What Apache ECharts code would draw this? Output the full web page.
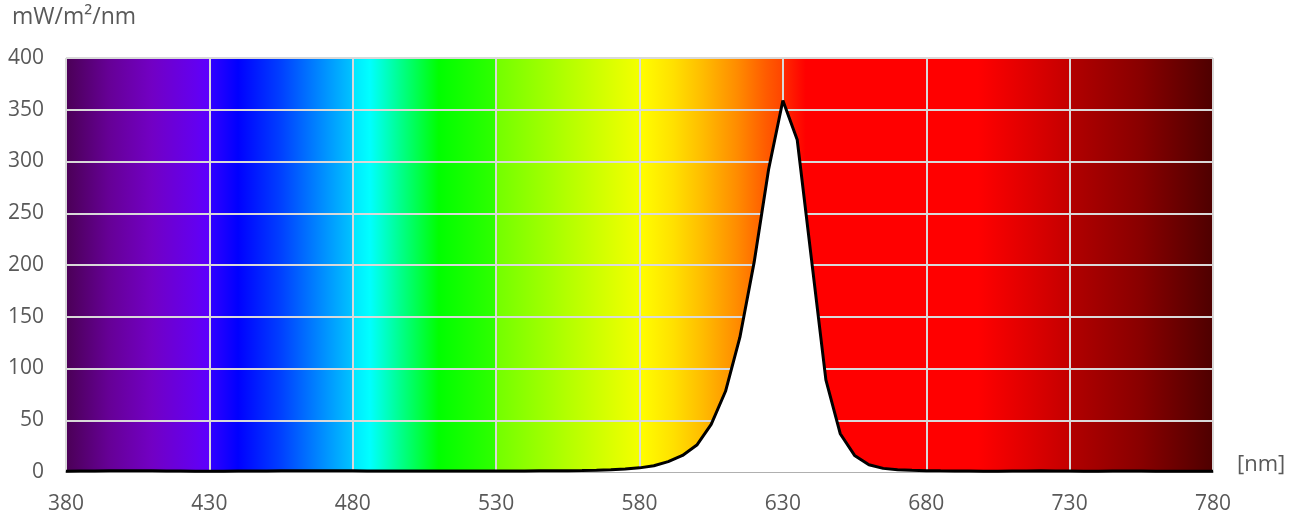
<!DOCTYPE html>
<html>
<head>
<meta charset="utf-8">
<script src="https://cdn.jsdelivr.net/npm/echarts@6/dist/echarts.min.js"></script>
<style>
html,body{margin:0;padding:0;background:#fff;}
#chart{width:1295px;height:518px;}
</style>
</head>
<body>
<div id="chart"></div>
<script>
// Wavelengths (nm), 5 nm steps
const wavelengths = [];
for (let w = 380; w <= 780; w += 5) wavelengths.push(w);
// Spectral irradiance (mW/m²/nm)
const irradiance = [
  0.8, 0.9, 1.0, 1.1, 1.2, 1.2, 1.1, 1.0, 0.9, 0.8,   // 380-425
  0.8, 0.8, 0.9, 1.0, 1.0, 1.1, 1.1, 1.2, 1.2, 1.1,   // 430-475
  1.1, 1.0, 1.0, 1.0, 1.0, 0.9, 0.9, 0.9, 0.9, 0.9,   // 480-525
  0.9, 1.0, 1.0, 1.1, 1.2, 1.3, 1.4, 1.7, 2.2, 2.9,   // 530-575
  4, 6, 10, 16, 26, 46, 78, 130, 203, 292,            // 580-625
  359, 321, 205, 89, 37, 16, 7, 3.5, 2.2, 1.6,        // 630-675
  1.3, 1.1, 1.0, 0.9, 0.8, 0.8, 0.9, 1.0, 1.1, 1.0,   // 680-725
  0.9, 0.8, 0.8, 0.9, 1.0, 0.9, 0.8, 0.7, 0.7, 0.8,   // 730-775
  0.8                                                 // 780
];
const xTicks = [380, 430, 480, 530, 580, 630, 680, 730, 780];
const yTicks = [0, 50, 100, 150, 200, 250, 300, 350, 400];
const yAxisTitle = 'mW/m²/nm';
const xAxisTitle = '[nm]';

// Spectrum background stops: [nm, colour]
const spectrumStops = [
  [380, '#4b0056'], [395, '#660096'], [410, '#7200c4'], [425, '#6400ee'], [430, '#5c00ff'],
  [430, '#3200ff'], [440, '#0000ff'], [455, '#0040ff'], [470, '#0090ff'], [480, '#00c4ff'],
  [480, '#00e6ff'], [486, '#00ffff'], [497, '#00ff88'], [510, '#00ff00'], [530, '#30ff00'],
  [530, '#72ff00'], [555, '#b4ff00'], [580, '#f4ff00'],
  [580, '#ffff00'], [592, '#ffe000'], [602, '#ffbc00'], [614, '#ff8c00'], [624, '#ff5c00'], [630, '#ff4400'],
  [630, '#ff2a00'], [638, '#ff0000'], [680, '#ff0000'],
  [680, '#ff0000'], [698, '#ff0000'], [715, '#e00000'], [730, '#c40000'],
  [730, '#b20000'], [755, '#880000'], [780, '#4e0000']
];

const chart = echarts.init(document.getElementById('chart'), null, {renderer: 'canvas'});
const font = '"Open Sans", "Noto Sans", sans-serif';
const labelColor = '#595959';

const bg = new echarts.graphic.LinearGradient(0, 0, 1, 0,
  spectrumStops.map(s => ({offset: (s[0] - 380) / 400, color: s[1]})));

chart.setOption({
  animation: false,
  grid: {
    left: 66, right: 82, top: 58, bottom: 46,
    show: true, backgroundColor: bg, borderWidth: 0
  },
  xAxis: {
    type: 'value', min: 380, max: 780, interval: 50,
    axisLine: {show: true, onZero: false, lineStyle: {color: '#b0b0b0', width: 2}},
    axisTick: {show: false},
    axisLabel: {color: labelColor, fontFamily: font, fontSize: 21, margin: 22,
      formatter: v => xTicks.includes(v) ? String(v) : ''},
    splitLine: {show: true, lineStyle: {color: '#d9d9d9', width: 2}}
  },
  yAxis: {
    type: 'value', min: 0, max: 400, interval: 50,
    axisLine: {show: false},
    axisTick: {show: false},
    axisLabel: {color: labelColor, fontFamily: font, fontSize: 21, margin: 22,
      formatter: v => yTicks.includes(v) ? String(v) : ''},
    splitLine: {show: true, lineStyle: {color: '#d9d9d9', width: 2}}
  },
  series: [{
    type: 'line',
    data: wavelengths.map((w, i) => [w, irradiance[i]]),
    showSymbol: false,
    smooth: false,
    lineStyle: {color: '#000000', width: 3},
    areaStyle: {color: '#ffffff', opacity: 1, origin: 'start'},
    z: 3
  }],
  graphic: [
    {type: 'text', left: 12, top: 6,
      style: {text: yAxisTitle, fill: labelColor, font: '23px ' + font}},
    {type: 'text', left: 1237, top: 454,
      style: {text: xAxisTitle, fill: labelColor, font: '22px ' + font}}
  ]
});
</script>
</body>
</html>
